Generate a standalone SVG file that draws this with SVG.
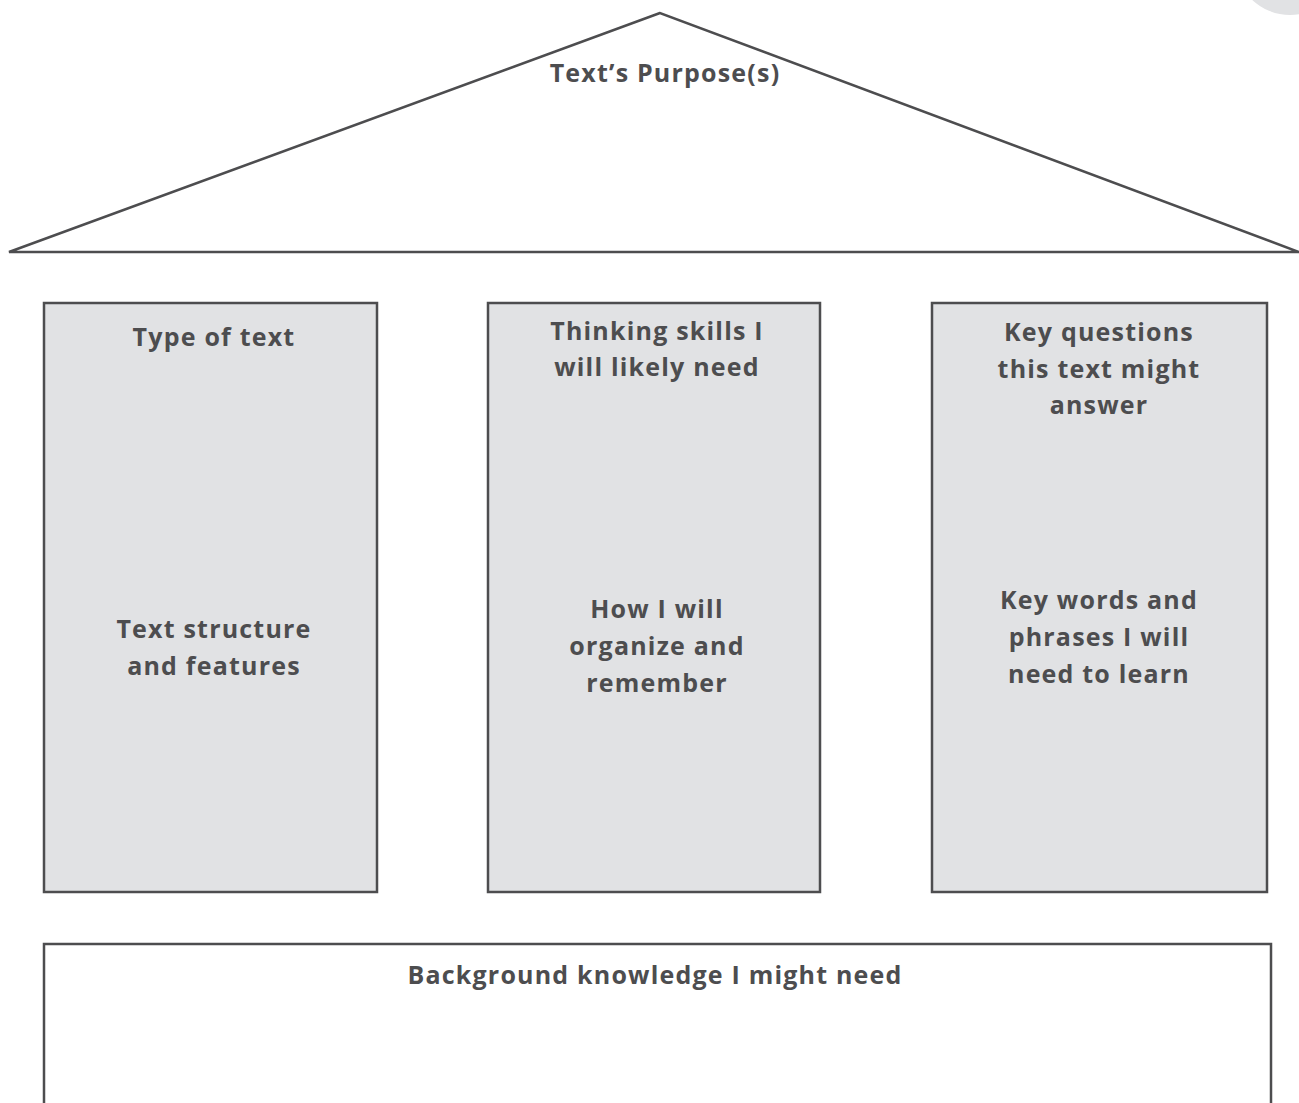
<svg xmlns="http://www.w3.org/2000/svg" width="1299" height="1103" viewBox="0 0 1299 1103">
<style>
.t{font-family:"Open Sans","Liberation Sans",sans-serif;font-weight:700;font-size:25px;letter-spacing:1.2px;fill:#4d4d4f;text-anchor:middle}
.col{fill:#e1e2e4;stroke:#4d4d4f;stroke-width:2.5}
</style>
<rect width="1299" height="1103" fill="#ffffff"/>
<circle cx="1290" cy="-40" r="55" fill="#e1e2e4"/>
<g id="roof">
<polygon points="660,13 9,252 1299,252" fill="none" stroke="#4d4d4f" stroke-width="2.5" stroke-linejoin="miter"/>
<text class="t" x="665" y="82">Text’s Purpose(s)</text>
</g>
<g id="col1">
<rect class="col" x="44" y="303" width="333" height="589"/>
<text class="t" x="214" y="346">Type of text</text>
<text class="t" x="214" y="638">Text structure</text>
<text class="t" x="214" y="675">and features</text>
</g>
<g id="col2">
<rect class="col" x="488" y="303" width="332" height="589"/>
<text class="t" x="657" y="340">Thinking skills I</text>
<text class="t" x="657" y="376">will likely need</text>
<text class="t" x="657" y="618">How I will</text>
<text class="t" x="657" y="655">organize and</text>
<text class="t" x="657" y="692">remember</text>
</g>
<g id="col3">
<rect class="col" x="932" y="303" width="335" height="589"/>
<text class="t" x="1099" y="341">Key questions</text>
<text class="t" x="1099" y="378">this text might</text>
<text class="t" x="1099" y="414">answer</text>
<text class="t" x="1099" y="609">Key words and</text>
<text class="t" x="1099" y="646">phrases I will</text>
<text class="t" x="1099" y="683">need to learn</text>
</g>
<g id="base">
<rect x="44" y="944" width="1227" height="200" fill="#ffffff" stroke="#4d4d4f" stroke-width="2.5"/>
<text class="t" x="655" y="984">Background knowledge I might need</text>
</g>
<g id="connectors"/>
</svg>
